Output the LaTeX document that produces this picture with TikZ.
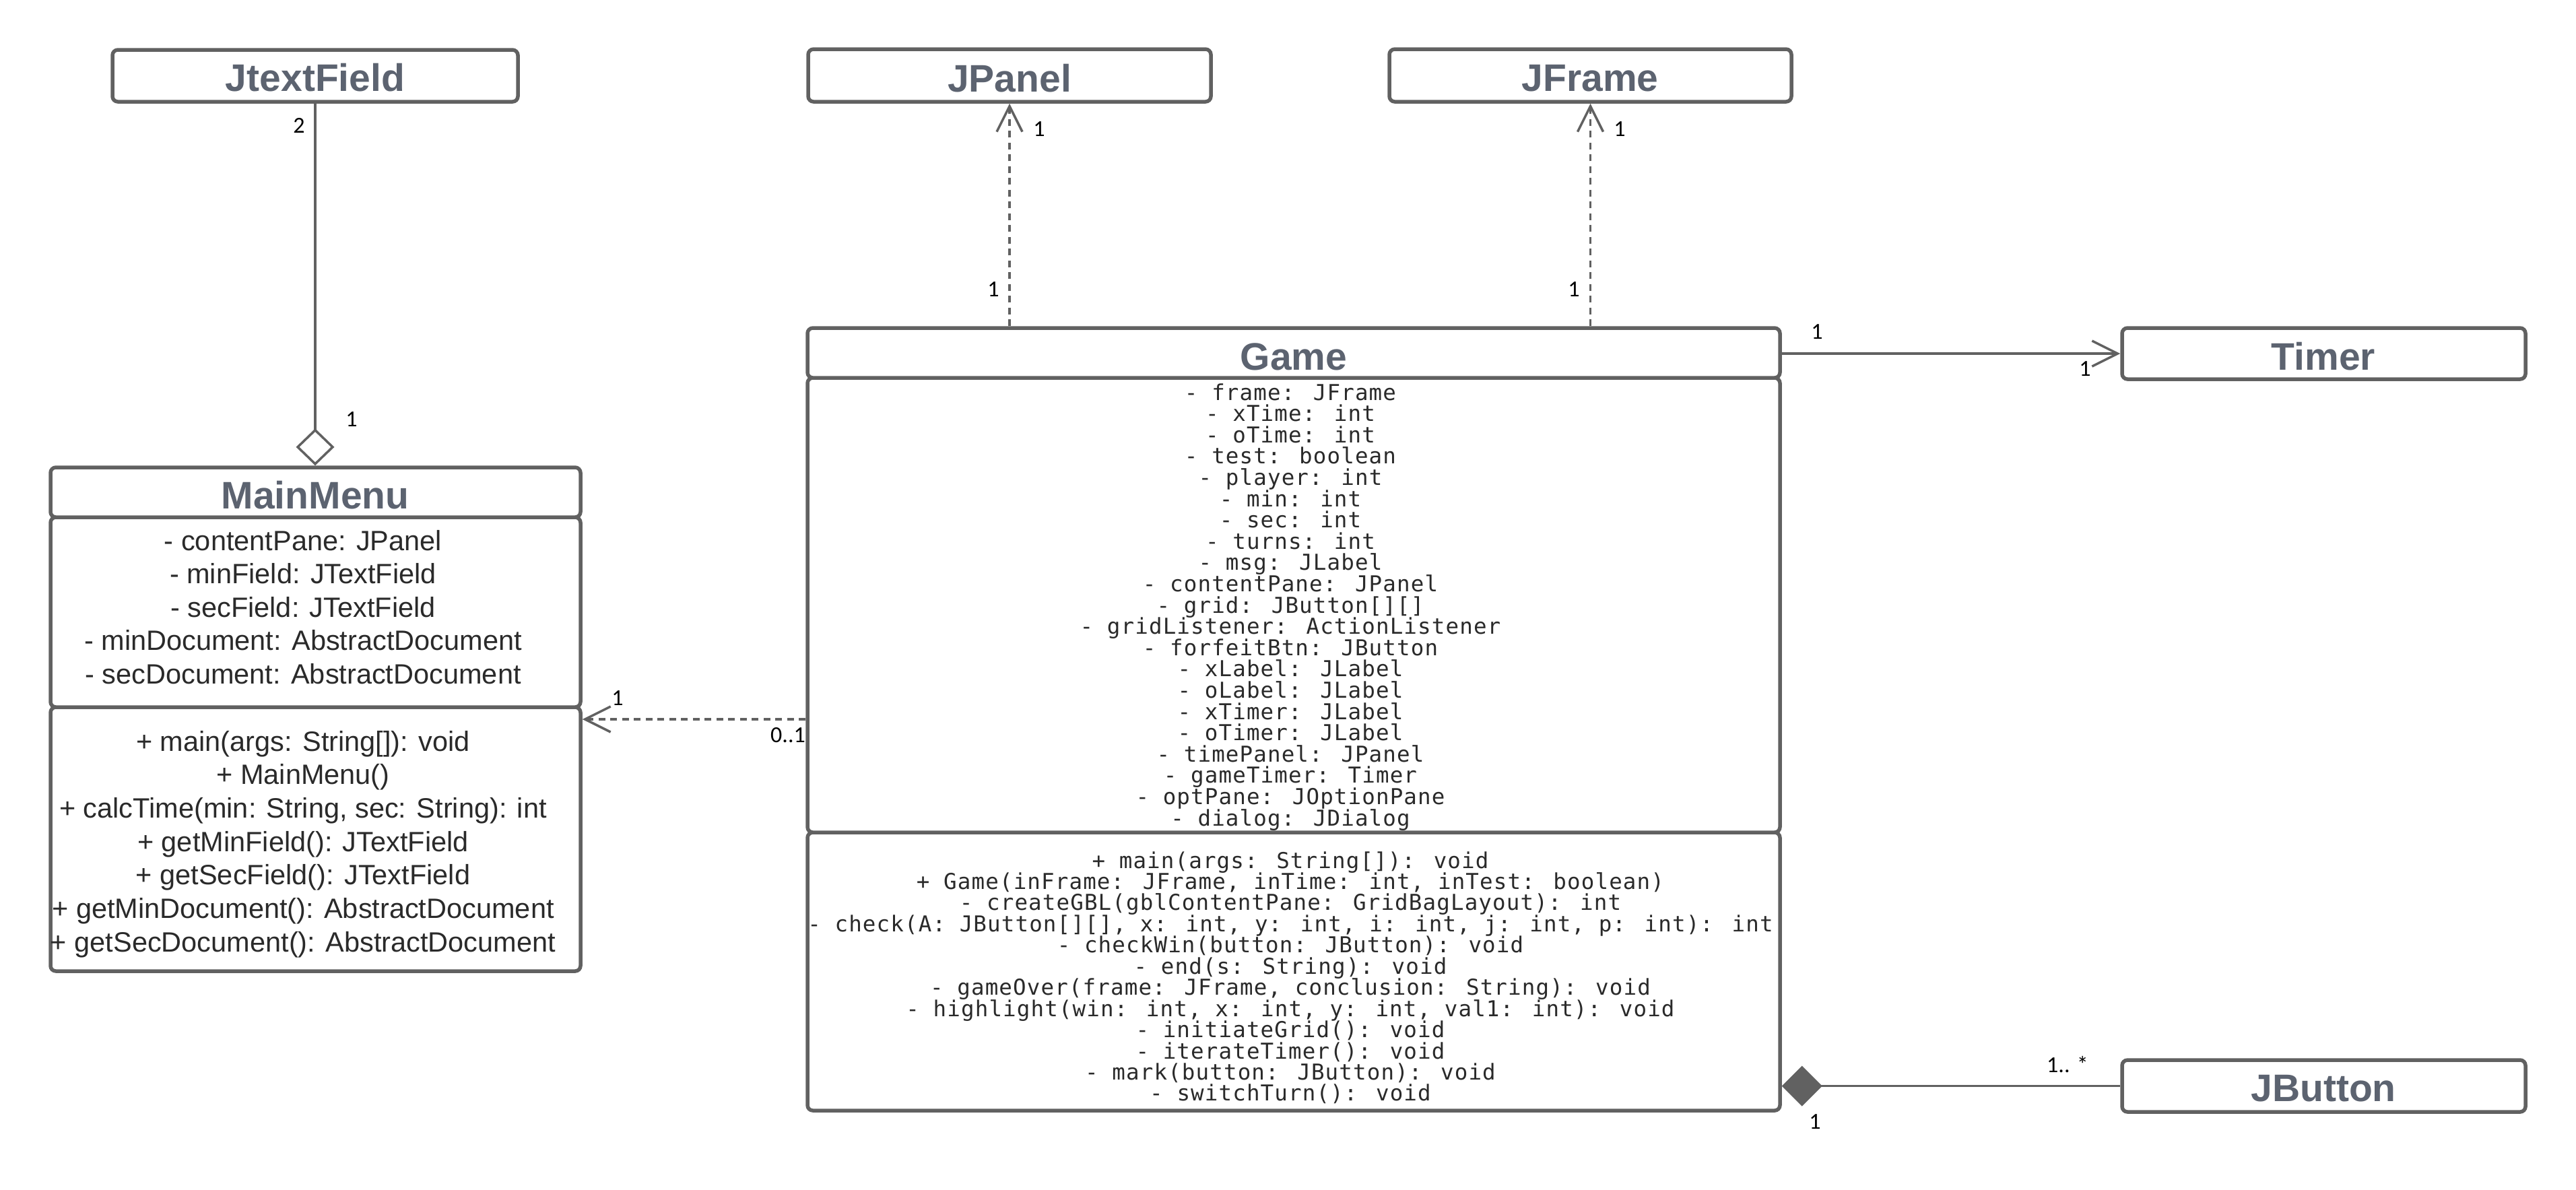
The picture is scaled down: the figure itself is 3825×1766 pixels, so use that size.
\documentclass[tikz,border=0pt]{standalone}
\usepackage{fontspec}
\setmainfont{Liberation Sans}
\newfontfamily\labelfont{Carlito}
\newfontfamily\codefont[LetterSpace=3.5]{DejaVu Sans Mono}
\usetikzlibrary{arrows.meta,fit}

\definecolor{edge}{HTML}{616161}
\definecolor{titlecol}{HTML}{5C6370}
\definecolor{bodytext}{HTML}{2A2A2A}

\tikzset{
  compart/.style={draw=edge, line width=1.1pt, rounded corners=1.6pt, inner sep=0pt, fill=white},
  classtitle/.style={font=\fontsize{11.4}{13}\selectfont\bfseries, text=titlecol, inner sep=0pt},
  sansrow/.style={font=\fontsize{8.3}{10}\selectfont, text=bodytext, inner sep=0pt, anchor=base},
  monorow/.style={font=\codefont\fontsize{6.5}{7.5}\selectfont, text=bodytext, inner sep=0pt, anchor=base},
  mult/.style={font=\labelfont\fontsize{6.8}{8}\selectfont, inner sep=0pt},
  link/.style={draw=edge, line width=0.7pt},
  dep/.style={link, dash pattern=on 2pt off 1.5pt},
  openhead/.style={-{Straight Barb[length=7.6pt, width=7.6pt]}},
  aggtip/.style={-{Diamond[open, length=11pt, width=11.4pt]}},
  comptip/.style={{Diamond[length=12pt, width=12pt]}-}
}

\begin{document}
\begin{tikzpicture}[x=0.2pt, y=-0.2pt]
\useasboundingbox (0,0) rectangle (3825,1766);
\fill[white] (0,0) rectangle (3825,1766);

% ---- single-compartment classes ----
\node[compart, fit={(167,74)(769,151)}] (jtf) {};
\node[classtitle] (jtfT) at (468,115) {JtextField};

\node[compart, fit={(1200,73)(1798,151)}] (jp) {};
\node[classtitle] (jpT) at (1499,116) {JPanel};

\node[compart, fit={(2063,73)(2660,151)}] (jf) {};
\node[classtitle] (jfT) at (2361,116) {JFrame};

\node[compart, fit={(3151,487)(3750,563)}] (tm) {};
\node[classtitle] (tmT) at (3450,529) {Timer};

\node[compart, fit={(3151,1574)(3750,1651)}] (jb) {};
\node[classtitle] (jbT) at (3450,1616) {JButton};

% ---- MainMenu ----
\node[compart, fit={(75,1050)(862,1442)}] (mmM) {};
\node[compart, fit={(75,768)(862,1050)}] (mmA) {};
\node[compart, fit={(75,694)(862,768)}] (mmH) {};
\node[classtitle] (mmT) at (468,735) {MainMenu};

\foreach \row [count=\i] in {
  {- contentPane: JPanel},
  {- minField: JTextField},
  {- secField: JTextField},
  {- minDocument: AbstractDocument},
  {- secDocument: AbstractDocument}}
  \node[sansrow] (mma\i) at (450,{817+49.6*(\i-1)}) {\row};

\foreach \row [count=\i] in {
  {+ main(args: String[]): void},
  {+ MainMenu()},
  {+ calcTime(min: String, sec: String): int},
  {+ getMinField(): JTextField},
  {+ getSecField(): JTextField},
  {+ getMinDocument(): AbstractDocument},
  {+ getSecDocument(): AbstractDocument}}
  \node[sansrow] (mmm\i) at (450,{1115+49.7*(\i-1)}) {\row};

% ---- Game ----
\node[compart, fit={(1199,1236)(2643,1649)}] (gM) {};
\node[compart, fit={(1199,561)(2643,1236)}] (gA) {};
\node[compart, fit={(1199,487)(2643,561)}] (gH) {};
\node[classtitle] (gT) at (1921,530) {Game};

\foreach \row [count=\i] in {
  {- frame: JFrame},
  {- xTime: int},
  {- oTime: int},
  {- test: boolean},
  {- player: int},
  {- min: int},
  {- sec: int},
  {- turns: int},
  {- msg: JLabel},
  {- contentPane: JPanel},
  {- grid: JButton[][]},
  {- gridListener: ActionListener},
  {- forfeitBtn: JButton},
  {- xLabel: JLabel},
  {- oLabel: JLabel},
  {- xTimer: JLabel},
  {- oTimer: JLabel},
  {- timePanel: JPanel},
  {- gameTimer: Timer},
  {- optPane: JOptionPane},
  {- dialog: JDialog}}
  \node[monorow] (ga\i) at (1916,{594+31.6*(\i-1)}) {\row};

\foreach \row [count=\i] in {
  {+ main(args: String[]): void},
  {+ Game(inFrame: JFrame, inTime: int, inTest: boolean)},
  {- createGBL(gblContentPane: GridBagLayout): int},
  {- check(A: JButton[][], x: int, y: int, i: int, j: int, p: int): int},
  {- checkWin(button: JButton): void},
  {- end(s: String): void},
  {- gameOver(frame: JFrame, conclusion: String): void},
  {- highlight(win: int, x: int, y: int, val1: int): void},
  {- initiateGrid(): void},
  {- iterateTimer(): void},
  {- mark(button: JButton): void},
  {- switchTurn(): void}}
  \node[monorow] (gm\i) at (1916,{1289+31.45*(\i-1)}) {\row};

% ---- relations ----
% MainMenu aggregates two text fields
\draw[link, aggtip] (jtf.south) -- (jtf.south |- mmH.north);
\node[mult] (m1) at (444,186) {2};
\node[mult] (m2) at (522,623) {1};

% Game uses JPanel and JFrame
\draw[dep, openhead] (gH.north -| jp.south) -- (jp.south);
\node[mult] (m3) at (1543,192) {1};
\node[mult] (m4) at (1475,430) {1};

\draw[dep, openhead] (gH.north -| jf.south) -- (jf.south);
\node[mult] (m5) at (2405,192) {1};
\node[mult] (m6) at (2337,430) {1};

% Game depends on MainMenu
\coordinate (depY) at (0,1068);
\draw[dep, openhead] (gA.west |- depY) -- (mmM.east |- depY);
\node[mult] (m7) at (917,1037) {1};
\node[mult] (m8) at (1170,1092) {0..1};

% Game holds a Timer
\draw[link, openhead] (gH.east |- tm.west) -- (tm.west);
\node[mult] (m9) at (2698,493) {1};
\node[mult] (m10) at (3096,548) {1};

% Game is composed of buttons
\draw[link, comptip] (gM.east |- jb.west) -- (jb.west);
\node[mult] (m11) at (2695,1666) {1};
\node[mult] (m12) at (3070,1581) {1.. *};
\end{tikzpicture}
\end{document}
